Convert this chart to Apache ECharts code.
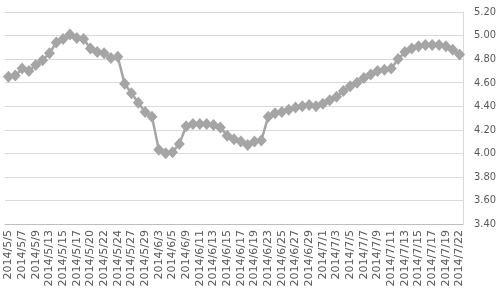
<!DOCTYPE html>
<html>
<head>
<meta charset="utf-8">
<script src="https://cdn.jsdelivr.net/npm/echarts@6/dist/echarts.min.js"></script>
<style>html,body{margin:0;padding:0;background:#fff;}#c{width:500px;height:303px;}</style>
</head>
<body>
<div id="c"></div>
<script>
var dates = ["2014/5/5","2014/5/6","2014/5/7","2014/5/8","2014/5/9","2014/5/12","2014/5/13","2014/5/14","2014/5/15","2014/5/16",
"2014/5/17","2014/5/19","2014/5/20","2014/5/21","2014/5/22","2014/5/23","2014/5/24","2014/5/26","2014/5/27","2014/5/28",
"2014/5/29","2014/5/30","2014/6/3","2014/6/4","2014/6/5","2014/6/6","2014/6/9","2014/6/10","2014/6/11","2014/6/12",
"2014/6/13","2014/6/14","2014/6/15","2014/6/16","2014/6/17","2014/6/18","2014/6/19","2014/6/20","2014/6/23","2014/6/24",
"2014/6/25","2014/6/26","2014/6/27","2014/6/28","2014/6/29","2014/6/30","2014/7/1","2014/7/2","2014/7/3","2014/7/4",
"2014/7/5","2014/7/6","2014/7/7","2014/7/8","2014/7/9","2014/7/10","2014/7/11","2014/7/12","2014/7/13","2014/7/14",
"2014/7/15","2014/7/16","2014/7/17","2014/7/18","2014/7/19","2014/7/21","2014/7/22"];
var values = [4.65,4.66,4.72,4.70,4.75,4.79,4.85,4.94,4.97,5.01,
4.98,4.97,4.89,4.86,4.85,4.81,4.82,4.59,4.51,4.43,
4.35,4.31,4.03,4.00,4.01,4.08,4.23,4.25,4.25,4.25,
4.24,4.22,4.15,4.12,4.10,4.07,4.10,4.11,4.31,4.34,
4.35,4.37,4.39,4.40,4.41,4.40,4.42,4.45,4.48,4.53,
4.57,4.60,4.64,4.67,4.70,4.71,4.72,4.80,4.86,4.89,
4.91,4.92,4.92,4.92,4.91,4.88,4.84];
var yMin = 3.4, yMax = 5.2, yStep = 0.2;

var chart = echarts.init(document.getElementById('c'), null, {renderer:'canvas'});
chart.setOption({
  animation: false,
  backgroundColor: '#ffffff',
  grid: {left: 5, right: 37, top: 12, bottom: 79, containLabel: false},
  xAxis: {
    type: 'category',
    data: dates,
    boundaryGap: true,
    axisLine: {show: true, lineStyle: {color: '#bfbfbf', width: 1}},
    axisTick: {show: false},
    axisLabel: {interval: 1, rotate: 90, color: '#595959', fontSize: 11, fontFamily: '"DejaVu Sans", sans-serif', margin: 6}
  },
  yAxis: {
    type: 'value',
    position: 'right',
    min: yMin, max: yMax, interval: yStep,
    axisLine: {show: true, lineStyle: {color: '#d9d9d9', width: 1}},
    axisTick: {show: false},
    splitLine: {show: true, lineStyle: {color: '#d9d9d9', width: 1}},
    axisLabel: {color: '#595959', fontSize: 11, fontFamily: '"Liberation Sans Narrow", "DejaVu Sans Condensed", "Roboto Condensed", Roboto, sans-serif', margin: 11,
      formatter: function(v){ return v.toFixed(2); }}
  },
  series: [{
    type: 'line',
    data: values,
    symbol: 'diamond',
    symbolSize: [11, 12],
    showAllSymbol: true,
    lineStyle: {color: '#a5a5a5', width: 2.5},
    itemStyle: {color: '#a5a5a5', borderWidth: 0}
  }]
});
</script>
</body>
</html>
